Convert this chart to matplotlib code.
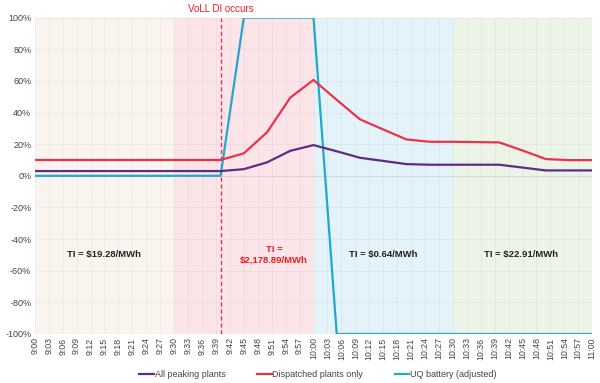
import matplotlib
matplotlib.use('Agg')
import matplotlib.pyplot as plt
import numpy as np

plt.rcParams['font.family'] = ['Liberation Sans', 'DejaVu Sans']

# data: minutes after 9:00, sampled every 5 minutes
minutes = list(range(0, 121, 5))
peaking = [3, 3, 3, 3, 3, 3, 3, 3, 3, 4.2, 8.5, 15.8, 19.4, 15.5, 11.4, 9.4, 7.4,
           7.0, 7.0, 7.0, 7.0, 5.2, 3.4, 3.4, 3.4]
dispatched = [10, 10, 10, 10, 10, 10, 10, 10, 10, 14.2, 27.5, 49.4, 60.6, 48, 35.7,
              29.3, 23, 21.5, 21.5, 21.3, 21.1, 16, 10.6, 9.9, 9.9]
battery = [0, 0, 0, 0, 0, 0, 0, 0, 0, 100, 100, 100, 100, -100, -100, -100, -100,
           -100, -100, -100, -100, -100, -100, -100, -100]

periods = [(0, 30), (30, 60), (60, 90), (90, 120)]
period_colors = ['#f9f5ee', '#fce5e9', '#e3f3f9', '#ebf4e7']
period_labels = ['TI = $19.28/MWh', 'TI =\n$2,178.89/MWh', 'TI = $0.64/MWh', 'TI = $22.91/MWh']
label_pos = [15, 51.5, 75, 104.7]
label_colors = ['#222222', '#ee1c25', '#222222', '#222222']

event_min = 40

tick_min = list(range(0, 121, 3))
tick_labels = ['{}:{:02d}'.format(9 + m // 60, m % 60) for m in tick_min]

fig = plt.figure(figsize=(6, 3.83), dpi=100)
ax = fig.add_axes([0.058, 0.128, 0.929, 0.826])

for (a, b), c in zip(periods, period_colors):
    ax.axvspan(a, b, color=c, lw=0, zorder=0)

for m in tick_min:
    ax.axvline(m, color='black', lw=0.5, alpha=0.05, zorder=1)
for v in range(-100, 101, 20):
    ax.axhline(v, color='black', lw=0.5, alpha=0.06, zorder=1)
ax.axhline(0, color='#d8d8d8', lw=0.8, zorder=1)

ax.axvline(event_min, color='#e8334a', lw=1, ls=(0, (3, 2)), zorder=2)

l1, = ax.plot(minutes, peaking, color='#5b2d86', lw=1.6, zorder=4)
l2, = ax.plot(minutes, dispatched, color='#e8334a', lw=1.6, zorder=4)
l3, = ax.plot(minutes, battery, color='#22a8c8', lw=1.6, zorder=3)

for x, t, c in zip(label_pos, period_labels, label_colors):
    ax.text(x, -50, t, color=c, fontsize=6.8, fontweight='bold', ha='center', va='center')

ax.text(event_min, 102.5, 'VoLL DI occurs', color='#ee1c25', fontsize=7, ha='center',
        va='bottom', clip_on=False)

ax.set_xlim(0, 120)
ax.set_ylim(-100, 100)
ax.set_xticks(tick_min)
ax.set_xticklabels(tick_labels, rotation=90, fontsize=6.3, color='#444444')
ax.set_yticks(range(-100, 101, 20))
ax.set_yticklabels(['{}%'.format(v) for v in range(-100, 101, 20)], fontsize=6.5, color='#444444')
ax.tick_params(length=0, pad=2.5)
for s in ax.spines.values():
    s.set_visible(False)

fig.legend([l1, l2, l3], ['All peaking plants', 'Dispatched plants only', 'UQ battery (adjusted)'],
           loc='lower center', bbox_to_anchor=(0.53, -0.012), ncol=3, frameon=False,
           fontsize=6.5, handlelength=1.6, handletextpad=0.1, columnspacing=3.5,
           labelcolor='#444444')

fig.savefig('out.png', dpi=100)
